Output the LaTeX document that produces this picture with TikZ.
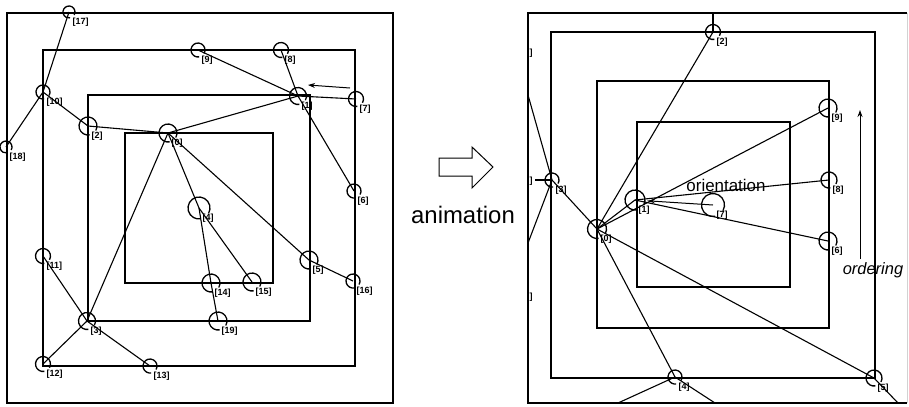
\documentclass[tikz,border=0pt]{standalone}
\usepackage{fontspec}
\setmainfont{Liberation Sans}
\usetikzlibrary{arrows.meta}

\begin{document}
\begin{tikzpicture}[x=1bp,y=-1bp,
  line width=1.1bp,
  vtx/.style={circle,inner sep=0pt,minimum size=2bp,draw=none},
  ring/.style={line width=1.3bp},
  tag/.style={anchor=north west,inner sep=0pt,font=\fontsize{9}{9}\selectfont\bfseries},
  caption/.style={inner sep=0pt,anchor=base,font=\fontsize{17}{17}\selectfont},
  pointer/.style={-{Stealth[length=7bp,width=5bp]},line width=1bp},
]
\useasboundingbox (0,0) rectangle (909,406);

% ---------------- left layout: nested frames ----------------
\draw (7,13) rectangle (393,403);
\draw (43,50) rectangle (355,366);
\draw (88,95) rectangle (310,321);
\draw (125,133) rectangle (273,283);

% vertices
\node[vtx] (a0)  at (168,133) {};
\node[vtx] (a1)  at (298,96)  {};
\node[vtx] (a2)  at (88,126)  {};
\node[vtx] (a3)  at (87,321)  {};
\node[vtx] (a4)  at (199,208) {};
\node[vtx] (a5)  at (309,260) {};
\node[vtx] (a6)  at (354,191) {};
\node[vtx] (a7)  at (356,99)  {};
\node[vtx] (a8)  at (281,50)  {};
\node[vtx] (a9)  at (198,50)  {};
\node[vtx] (a10) at (43,92)   {};
\node[vtx] (a11) at (43,256)  {};
\node[vtx] (a12) at (43,364)  {};
\node[vtx] (a13) at (150,366) {};
\node[vtx] (a14) at (211,283) {};
\node[vtx] (a15) at (252,282) {};
\node[vtx] (a16) at (353,281) {};
\node[vtx] (a17) at (69,12)   {};
\node[vtx] (a18) at (6,147)   {};
\node[vtx] (a19) at (218,321) {};

% links
\foreach \u/\v in {a17/a10,a10/a18,a10/a2,a2/a0,a0/a1,a9/a1,a8/a1,a1/a7,a1/a6,
                   a0/a3,a0/a4,a0/a5,a5/a16,a4/a14,a4/a15,a14/a19,a3/a11,a3/a12,a3/a13}
  \draw (\u.center) -- (\v.center);

% rings, open at the lower right where the tag sits
\foreach \n/\r in {a0/9,a1/8.5,a2/9,a3/8.5,a4/11,a5/9,a6/7,a7/7.5,a8/7.5,a9/7,
                   a10/7,a11/7.5,a12/7.5,a13/7,a14/9,a15/9,a16/7,a17/6,a18/6,a19/9}
  \draw[ring] (\n.center) ++(-30:\r bp) arc[start angle=-30,end angle=280,radius=\r bp];

% tags
\foreach \n/\t in {a0/0,a1/1,a2/2,a3/3,a4/4,a5/5,a6/6,a7/7,a8/8,a9/9,a10/10,a11/11,
                   a12/12,a13/13,a14/14,a15/15,a16/16,a17/17,a18/18,a19/19}
  \node[tag] (\n-t) at ([shift={(3,5)}]\n.center) {[\t]};

% direction hint near vertex 1
\coordinate (hintA) at (350,88);
\coordinate (hintB) at (308,85);
\draw[pointer] (hintA) -- (hintB);

% ---------------- transition arrow ----------------
\draw[line width=1bp,line join=miter]
  (439,158) -- (472,158) -- (472,147) -- (493,167) -- (472,188) -- (472,176) -- (439,176) -- cycle;
\node[inner sep=0pt,anchor=base,font=\fontsize{24}{24}\selectfont] (anim) at (463,223) {animation};

% ---------------- right layout: nested frames ----------------
\draw (907,13) -- (528,13) -- (528,403) -- (907,403);
\draw[gray!35,line width=0.6bp] (907,13) -- (907,403);
\draw (551,32) rectangle (875,378);
\draw (597,81) rectangle (829,328);
\draw (637,122) rectangle (790,287);

% vertices
\node[vtx] (b0) at (597,229) {};
\node[vtx] (b1) at (635,200) {};
\node[vtx] (b2) at (713,32)  {};
\node[vtx] (b3) at (552,180) {};
\node[vtx] (b4) at (675,377) {};
\node[vtx] (b5) at (874,378) {};
\node[vtx] (b6) at (828,241) {};
\node[vtx] (b7) at (713,205) {};
\node[vtx] (b8) at (829,180) {};
\node[vtx] (b9) at (828,108) {};

% loose ends leaving the frame
\coordinate (e2)  at (713,13);
\coordinate (e3a) at (528,95);
\coordinate (e3b) at (528,243);
\coordinate (e3c) at (535,180);
\coordinate (e4a) at (618,403);
\coordinate (e4b) at (715,403);
\coordinate (e5)  at (898,403);

% links
\foreach \u/\v in {b2/b0,b0/b3,b0/b1,b0/b9,b1/b8,b1/b6,b0/b4,b0/b5}
  \draw (\u.center) -- (\v.center);
\draw (b2.center) -- (e2);
\draw (b3.center) -- (e3a);
\draw (b3.center) -- (e3b);
\draw (b3.center) -- (e3c);
\draw (b4.center) -- (e4a);
\draw (b4.center) -- (e4b);
\draw (b5.center) -- (e5);

% orientation arrow from vertex 7 to vertex 1
\draw[-{Stealth[length=8bp,width=4bp]},line width=1bp,shorten >=12bp] (b7.center) -- (b1.center);

% rings
\foreach \n/\r in {b0/9.5,b1/10,b2/7.5,b3/7,b4/7,b5/8,b6/9,b7/11.5,b8/8,b9/9}
  \draw[ring] (\n.center) ++(-30:\r bp) arc[start angle=-30,end angle=280,radius=\r bp];

% tags
\foreach \n/\t in {b0/0,b1/1,b2/2,b3/3,b4/4,b5/5,b6/6,b7/7,b8/8,b9/9}
  \node[tag] (\n-t) at ([shift={(3,5)}]\n.center) {[\t]};

% tags of vertices lying outside the frame, cut at its edge
\node[tag] (cut1) at (529,48)  {]};
\node[tag] (cut2) at (529,176) {]};
\node[tag] (cut3) at (529,292) {]};

% annotations
\node[caption] (orient) at (726,191) {orientation};
\coordinate (ordA) at (860,259);
\coordinate (ordB) at (860,110);
\draw[pointer] (ordA) -- (ordB);
\node[caption,font=\fontsize{16.5}{16.5}\selectfont\itshape] (order) at (873,274) {ordering};
\end{tikzpicture}
\end{document}
